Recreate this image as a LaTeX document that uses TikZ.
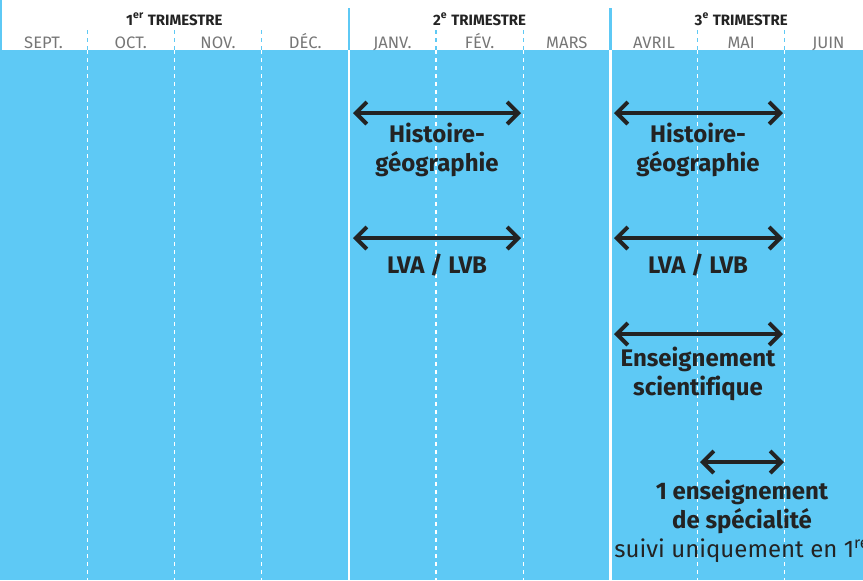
\documentclass[tikz,border=0pt]{standalone}
\usepackage{fontspec}
\setmainfont{Fira Sans}[Ligatures=CommonOff]
\usetikzlibrary{positioning,arrows.meta,calc}
\definecolor{skyfill}{RGB}{94,201,245}
\definecolor{inkdark}{RGB}{35,35,35}
\definecolor{monthgray}{RGB}{118,118,118}
\tikzstyle{trimlbl}=[font=\fontsize{7.5}{9}\selectfont\bfseries, text=inkdark, inner sep=0pt, anchor=base]
\tikzstyle{monthlbl}=[font=\fontsize{8.3}{10}\selectfont, text=monthgray, inner sep=0pt, anchor=base]
\tikzstyle{sublbl}=[font=\fontsize{12}{14.5}\selectfont\bfseries, text=inkdark,
                    align=center, inner sep=0pt]
\tikzstyle{span}=[{Straight Barb[length=5.5pt,width=11pt]}-{Straight Barb[length=5.5pt,width=11pt]},
                  line width=2pt, draw=inkdark]
\tikzstyle{monthsep}=[white, line width=0.6pt, dash pattern=on 2pt off 2pt]
\tikzstyle{trimsep}=[white, line width=1.3pt]
\tikzstyle{headsep}=[skyfill, line width=1.3pt]

\begin{document}
\begin{tikzpicture}[x=0.5pt, y=-0.5pt]
\useasboundingbox (0,0) rectangle (863,580);
\clip (0,0) rectangle (863,580);

% background
\fill[skyfill] (0,50) rectangle (880,580);
\draw[headsep] (0.6,0) -- (0.6,50);

% month columns
\foreach \m [count=\i] in {SEPT.,OCT.,NOV.,DÉC.,JANV.,FÉV.,MARS,AVRIL,MAI,JUIN}
  \node (m\i) [monthlbl] at ({87.2*(\i-0.5)},48) {\m};
\foreach \k in {1,2,3,5,6,8,9}{
  \draw[monthsep, skyfill] ({87.2*\k},30) -- ({87.2*\k},50);
  \draw[monthsep] ({87.2*\k},50) -- ({87.2*\k},580);
}
\foreach \k in {4,7}{
  \draw[headsep] ({87.2*\k},8) -- ({87.2*\k},50);
  \draw[trimsep] ({87.2*\k},50) -- ({87.2*\k},580);
}

% trimesters
\node (T1) [trimlbl] at (174.4,25) {1\textsuperscript{er} TRIMESTRE};
\node (T2) [trimlbl] at (479.6,25) {2\textsuperscript{e} TRIMESTRE};
\node (T3) [trimlbl] at (741.2,25) {3\textsuperscript{e} TRIMESTRE};

% 2e trimestre
\coordinate (HGa) at (353,113);
\coordinate (HGb) at (521,113);
\draw[span] (HGa) -- (HGb);
\node (HGlbl) [sublbl] at (437,150) {Histoire-\\géographie};

\coordinate (LVa) at (353,238);
\coordinate (LVb) at (521,238);
\draw[span] (LVa) -- (LVb);
\node (LVlbl) [sublbl] at (437,265) {LVA / LVB};

% 3e trimestre
\coordinate (HGc) at (614,113);
\coordinate (HGd) at (783,113);
\draw[span] (HGc) -- (HGd);
\node (HGlblb) [sublbl] at (698,150) {Histoire-\\géographie};

\coordinate (LVc) at (614,238);
\coordinate (LVd) at (783,238);
\draw[span] (LVc) -- (LVd);
\node (LVlblb) [sublbl] at (698,265) {LVA / LVB};

\coordinate (ESa) at (614,334);
\coordinate (ESb) at (783,334);
\draw[span] (ESa) -- (ESb);
\node (ESlbl) [sublbl] at (698,374) {Enseignement\\scientifique};

\coordinate (SPa) at (700,462);
\coordinate (SPb) at (784,462);
\draw[span] (SPa) -- (SPb);
\node (SPlbl) [sublbl] at (742,521) {1 enseignement\\de spécialité\\{\mdseries suivi uniquement en 1\textsuperscript{re}}};

\end{tikzpicture}
\end{document}
